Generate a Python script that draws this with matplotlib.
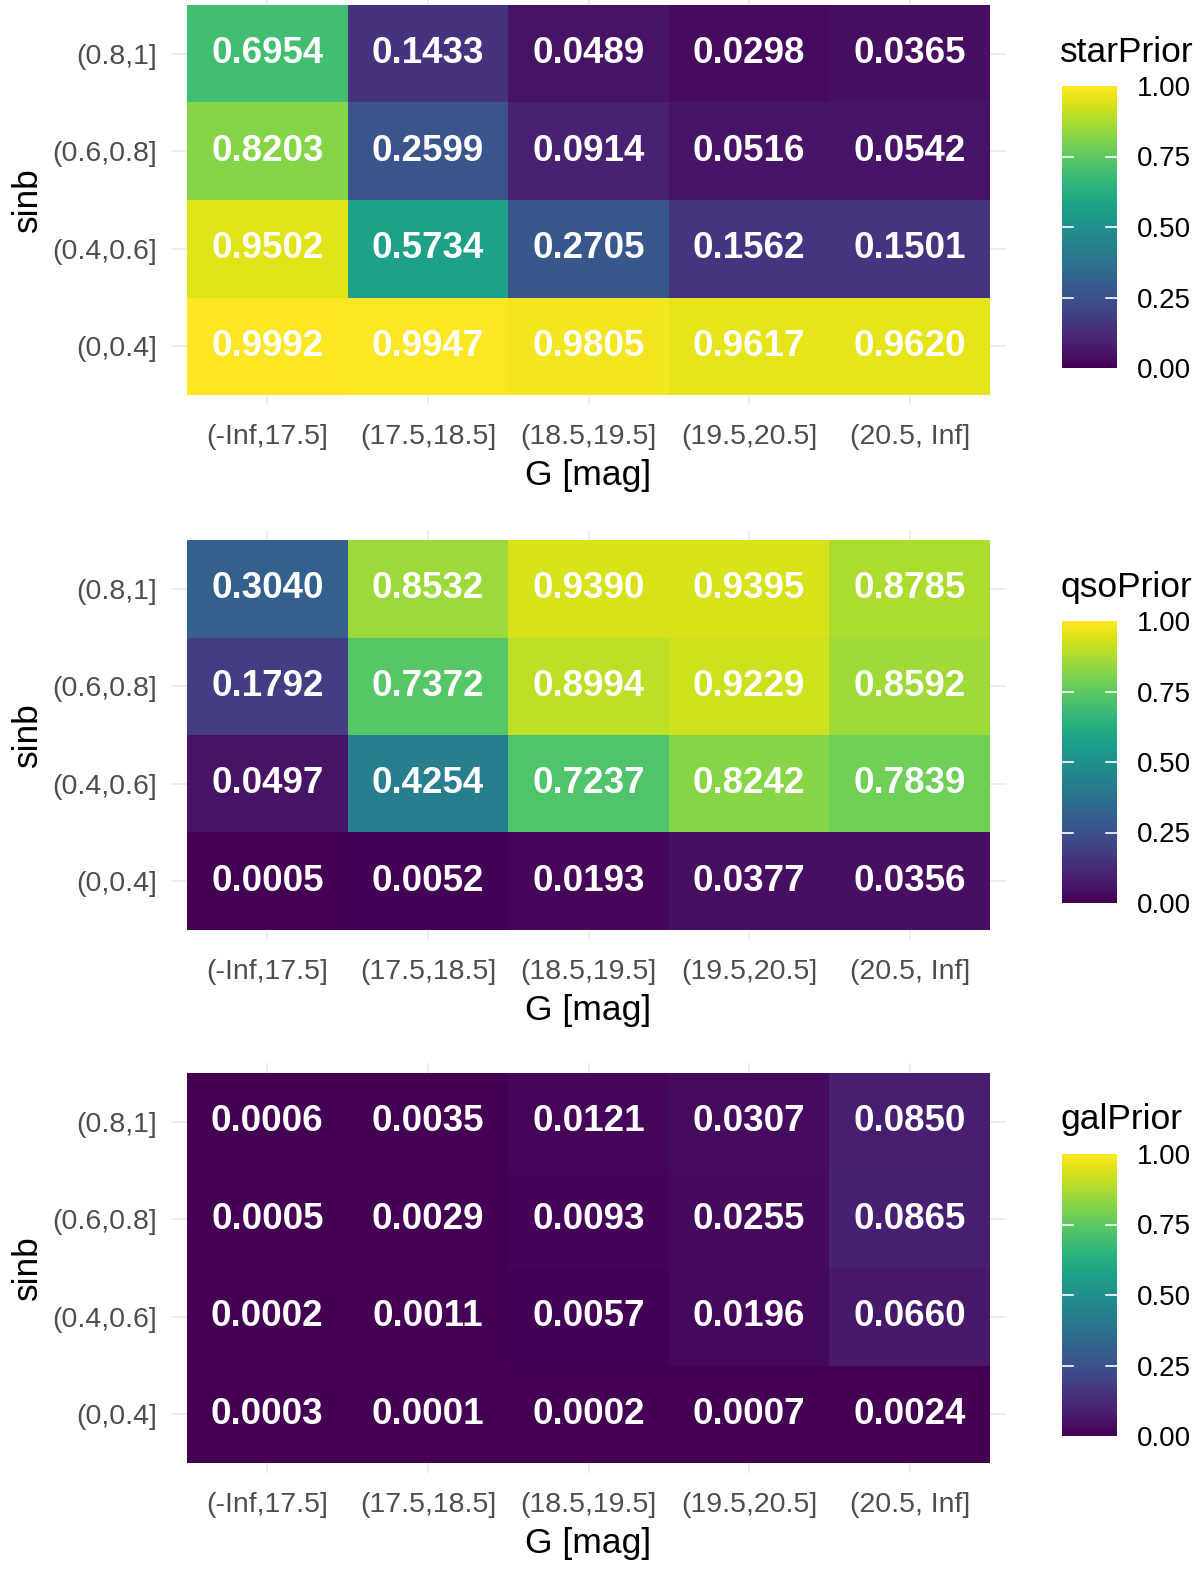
import numpy as np
import matplotlib
matplotlib.use("Agg")
import matplotlib.pyplot as plt

plt.rcParams['font.family'] = ['Liberation Sans', 'DejaVu Sans']

g_labels = ["(-Inf,17.5]", "(17.5,18.5]", "(18.5,19.5]", "(19.5,20.5]", "(20.5, Inf]"]
sinb_labels = ["(0,0.4]", "(0.4,0.6]", "(0.6,0.8]", "(0.8,1]"]  # bottom to top

# rows listed bottom (0,0.4] to top (0.8,1]
star_prior = [
    [0.9992, 0.9947, 0.9805, 0.9617, 0.9620],
    [0.9502, 0.5734, 0.2705, 0.1562, 0.1501],
    [0.8203, 0.2599, 0.0914, 0.0516, 0.0542],
    [0.6954, 0.1433, 0.0489, 0.0298, 0.0365],
]
qso_prior = [
    [0.0005, 0.0052, 0.0193, 0.0377, 0.0356],
    [0.0497, 0.4254, 0.7237, 0.8242, 0.7839],
    [0.1792, 0.7372, 0.8994, 0.9229, 0.8592],
    [0.3040, 0.8532, 0.9390, 0.9395, 0.8785],
]
gal_prior = [
    [0.0003, 0.0001, 0.0002, 0.0007, 0.0024],
    [0.0002, 0.0011, 0.0057, 0.0196, 0.0660],
    [0.0005, 0.0029, 0.0093, 0.0255, 0.0865],
    [0.0006, 0.0035, 0.0121, 0.0307, 0.0850],
]
panels = [("starPrior", star_prior), ("qsoPrior", qso_prior), ("galPrior", gal_prior)]
cbar_ticks = [0.00, 0.25, 0.50, 0.75, 1.00]

W, H = 1200, 1570
fig = plt.figure(figsize=(W / 100, H / 100), dpi=100)
cmap = plt.get_cmap('viridis')

def fr(l, t, r, b):
    return [l / W, 1 - b / H, (r - l) / W, (b - t) / H]

tile_tops = [5, 540, 1073]
tile_h = 390
tl, tr = 187, 990
for (name, vals), top in zip(panels, tile_tops):
    vals = np.array(vals)
    bottom = top + tile_h
    cw = (tr - tl) / 5
    ch = tile_h / 4
    ex = 0.1
    ax = fig.add_axes(fr(tl - ex * cw, top - ex * ch, tr + ex * cw, bottom + ex * ch))
    ax.set_xlim(-0.5 - ex, 4.5 + ex)
    ax.set_ylim(-0.5 - ex, 3.5 + ex)
    for i in range(5):
        ax.axvline(i, color='#ebebeb', lw=1.2, zorder=0)
    for j in range(4):
        ax.axhline(j, color='#ebebeb', lw=1.2, zorder=0)
    ax.pcolormesh(np.arange(6) - 0.5, np.arange(5) - 0.5, vals, cmap=cmap, vmin=0, vmax=1, zorder=1)
    for j in range(4):
        for i in range(5):
            ax.text(i, j, f"{vals[j, i]:.4f}", ha='center', va='center', color='white',
                    fontsize=26.5, fontweight='bold', zorder=2)
    for s in ax.spines.values():
        s.set_visible(False)
    ax.set_xticks(range(5))
    ax.set_xticklabels(g_labels, fontsize=20.5, color='#4d4d4d')
    ax.set_yticks(range(4))
    ax.set_yticklabels(sinb_labels, fontsize=20.5, color='#4d4d4d')
    ax.tick_params(axis='x', length=0, pad=14)
    ax.tick_params(axis='y', length=0, pad=10)
    ax.set_xlabel("G [mag]", fontsize=25.5, labelpad=6)
    ax.set_ylabel("sinb", fontsize=25.5, labelpad=6)

    # colorbar
    ctop = top + 81
    cax = fig.add_axes(fr(1062, ctop, 1117, ctop + 282))
    grad = np.linspace(0, 1, 300).reshape(-1, 1)
    cax.imshow(grad, aspect='auto', cmap=cmap, origin='lower', extent=[0, 1, 0, 1])
    cax.set_xlim(0, 1)
    cax.set_ylim(0, 1)
    for tv in cbar_ticks[1:-1]:
        cax.plot([0, 0.2], [tv, tv], color='white', lw=1.2)
        cax.plot([0.8, 1], [tv, tv], color='white', lw=1.2)
    cax.set_xticks([])
    cax.yaxis.tick_right()
    cax.set_yticks(cbar_ticks)
    cax.set_yticklabels([f"{t:.2f}" for t in cbar_ticks], fontsize=20, color='black')
    cax.tick_params(length=0, pad=14)
    for s in cax.spines.values():
        s.set_visible(False)
    fig.text(1060 / W, 1 - (top + 47) / H, name, fontsize=25.5, ha='left', va='center')

fig.savefig("out.png", dpi=100)
